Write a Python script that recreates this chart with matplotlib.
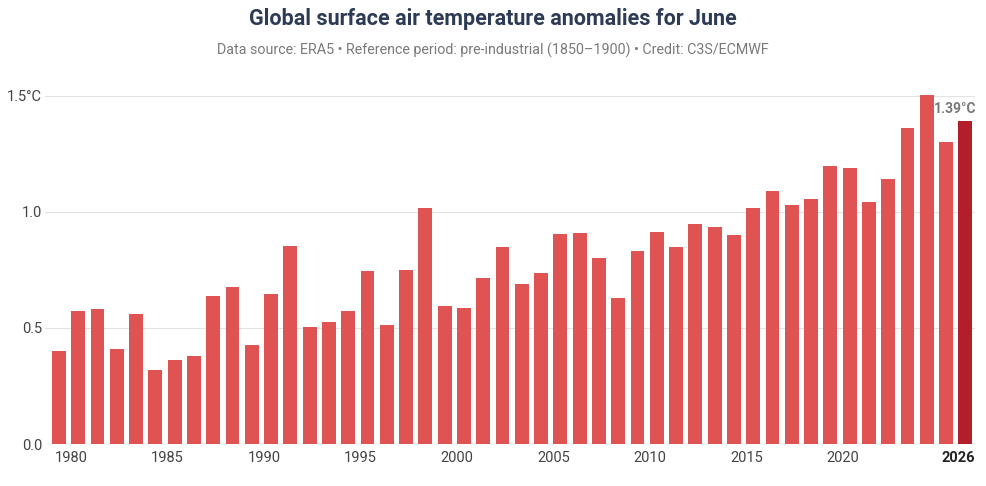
import matplotlib
matplotlib.use("Agg")
import matplotlib.pyplot as plt

# June anomalies vs 1850-1900
years = list(range(1979, 2027))
anomalies = [0.40, 0.575, 0.58, 0.41, 0.56, 0.32, 0.36, 0.38, 0.64, 0.675,
             0.425, 0.645, 0.855, 0.505, 0.525, 0.575, 0.745, 0.515, 0.75, 1.015,
             0.595, 0.585, 0.715, 0.85, 0.69, 0.735, 0.905, 0.91, 0.80, 0.63,
             0.83, 0.915, 0.85, 0.95, 0.935, 0.90, 1.015, 1.09, 1.03, 1.055,
             1.20, 1.19, 1.045, 1.14, 1.36, 1.505, 1.30, 1.39]
tick_years = [1980, 1985, 1990, 1995, 2000, 2005, 2010, 2015, 2020, 2026]
ytick_vals = [0.0, 0.5, 1.0, 1.5]
ytick_labels = ["0.0", "0.5", "1.0", "1.5°C"]

plt.rcParams['font.family'] = ['Roboto', 'DejaVu Sans']

fig = plt.figure(figsize=(9.86, 4.86), dpi=100)
ax = fig.add_axes([45 / 986, 42 / 486, 930 / 986, 355 / 486])

colors = ['#e05353'] * (len(years) - 1) + ['#b21f2b']
ax.bar(years, anomalies, width=0.72, color=colors, zorder=3)

ax.set_xlim(1978.28, 2026.5)
ax.set_ylim(0, 1.53)

# gridlines
for v in ytick_vals:
    ax.axhline(v, color='#e3e3e3' if v > 0 else '#999999', linewidth=0.8, zorder=1)

ax.set_yticks(ytick_vals)
ax.set_yticklabels(ytick_labels, fontsize=10.5, color='#444444')
ax.tick_params(axis='y', length=0, pad=2)

ax.set_xticks([y - 0.36 for y in tick_years])
ax.set_xticklabels([str(y) for y in tick_years], fontsize=10.5, color='#444444')
ax.tick_params(axis='x', length=0, pad=5)
ax.get_xticklabels()[-1].set_fontweight('bold')
ax.get_xticklabels()[-1].set_color('#222222')

for s in ax.spines.values():
    s.set_visible(False)

# label on latest bar
ax.text(years[-1] + 0.55, anomalies[-1] + 0.025, f"{anomalies[-1]:.2f}°C",
        ha='right', va='bottom', fontsize=10, fontweight='bold', color='#7a7a7a')

fig.text(0.5, 1 - 19 / 486, "Global surface air temperature anomalies for June",
         ha='center', va='center', fontsize=15.5, fontweight='bold', color='#2e3b55')
fig.text(0.5, 1 - 50 / 486,
         "Data source: ERA5 • Reference period: pre-industrial (1850–1900) • Credit: C3S/ECMWF",
         ha='center', va='center', fontsize=10.3, color='#7a7a7a')

fig.savefig("out.png", dpi=100)
